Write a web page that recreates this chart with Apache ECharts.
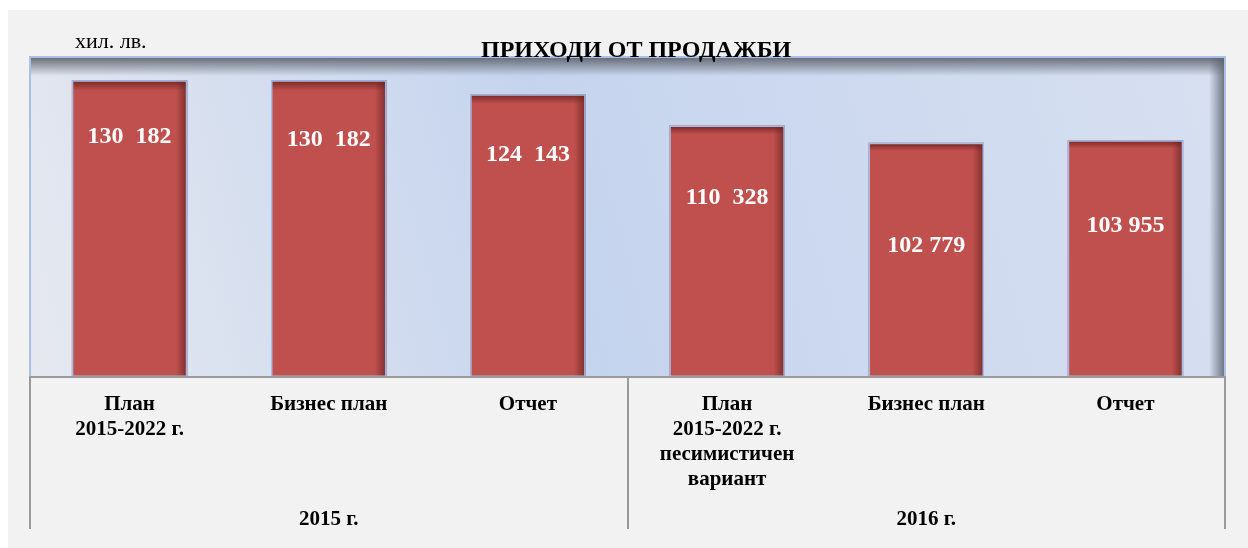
<!DOCTYPE html>
<html>
<head>
<meta charset="utf-8">
<script src="https://cdn.jsdelivr.net/npm/echarts@6/dist/echarts.min.js"></script>
<style>
html,body{margin:0;padding:0;background:#ffffff;}
#chart{width:1248px;height:548px;}
</style>
</head>
<body>
<div id="chart"></div>
<script>
// ---- data ----
const categories = [
  'План\n2015-2022 г.',
  'Бизнес план',
  'Отчет',
  'План\n2015-2022 г.\nпесимистичен\nвариант',
  'Бизнес план',
  'Отчет'
];
const groups = ['2015 г.', '2016 г.'];
const revenue = [130182, 130182, 124143, 110328, 102779, 103955];
const valueLabels = ['130  182', '130  182', '124  143', '110  328', '102 779', '103 955'];
const titleText = 'ПРИХОДИ ОТ ПРОДАЖБИ';
const unitText = 'хил. лв.';

// ---- styles (not data) ----
const labelDistances = [44, 47, 49, 60, 91, 74];
const FONT = "'Liberation Serif','Times New Roman',serif";

const chart = echarts.init(document.getElementById('chart'), null, {renderer: 'canvas'});

const G = {left: 30, right: 23, top: 58, bottom: 171};
const W = 1248, H = 548;
const gx = G.left, gy = G.top, gw = W - G.left - G.right, gh = H - G.top - G.bottom;

const option = {
  backgroundColor: 'transparent',
  animation: false,
  graphic: [
    {type: 'rect', z: -10, silent: true, shape: {x: 8, y: 10, width: W - 8, height: H - 10}, style: {fill: '#f2f2f2'}},
    // plot inner shadow top
    {type: 'rect', z: 5, silent: true, shape: {x: gx, y: gy, width: gw, height: 18},
      style: {fill: new echarts.graphic.LinearGradient(0, 0, 0, 1, [
        {offset: 0, color: 'rgba(95,100,110,0.9)'}, {offset: 1, color: 'rgba(95,100,110,0)'}])}},
    // plot inner shadow right
    {type: 'rect', z: 5, silent: true, shape: {x: gx + gw - 16, y: gy, width: 16, height: gh},
      style: {fill: new echarts.graphic.LinearGradient(0, 0, 1, 0, [
        {offset: 0, color: 'rgba(95,100,110,0)'}, {offset: 1, color: 'rgba(95,100,110,0.9)'}])}},
    {type: 'polyline', z: 6, silent: true,
      shape: {points: [[gx, gy + gh], [gx, gy - 1], [gx + gw, gy - 1], [gx + gw, gy + gh]]},
      style: {fill: 'none', stroke: '#a9c1e8', lineWidth: 2}}
  ],
  title: [
    {text: titleText, left: 476, top: 34,
      textStyle: {fontFamily: FONT, fontWeight: 'bold', fontSize: 24, color: '#000'}},
    {text: unitText, left: 70, top: 26,
      textStyle: {fontFamily: FONT, fontWeight: 'normal', fontSize: 22, color: '#000'}}
  ],
  grid: {
    left: G.left, right: G.right, top: G.top, bottom: G.bottom,
    show: true, borderWidth: 0,
    backgroundColor: new echarts.graphic.LinearGradient(0, 1, 1, 0, [
      {offset: 0, color: '#e6e9f0'},
      {offset: 0.45, color: '#c5d4ee'},
      {offset: 1, color: '#d8e0f1'}
    ])
  },
  xAxis: [
    {
      type: 'category', data: categories, position: 'bottom', z: 8,
      axisLine: {show: true, lineStyle: {color: '#9a9a9a', width: 2}},
      axisTick: {show: false},
      splitLine: {show: false},
      axisLabel: {interval: 0, margin: 15, fontFamily: FONT, fontWeight: 'bold', fontSize: 21,
        lineHeight: 25, color: '#000', align: 'center'}
    },
    {
      type: 'category', data: groups, position: 'bottom', z: 8,
      axisLine: {show: false},
      axisTick: {show: true, length: 152, lineStyle: {color: '#9a9a9a', width: 2}},
      splitLine: {show: false},
      axisLabel: {interval: 0, margin: 130, fontFamily: FONT, fontWeight: 'bold', fontSize: 21,
        lineHeight: 25, color: '#000'}
    }
  ],
  yAxis: {type: 'value', min: 0, max: 140000, show: false, splitLine: {show: false}},
  series: [
    {
      type: 'bar', xAxisIndex: 0, barWidth: '58%', z: 2,
      data: revenue.map((v, i) => ({
        value: v,
        label: {distance: labelDistances[i], formatter: valueLabels[i]}
      })),
      itemStyle: {
        color: new echarts.graphic.LinearGradient(0, 0, 1, 0, [
          {offset: 0, color: '#c0504d'},
          {offset: 0.9, color: '#c0504d'},
          {offset: 1, color: '#7c2e2c'}
        ])
      },
      label: {show: true, position: 'insideTop', color: '#ffffff', fontFamily: FONT,
        fontWeight: 'bold', fontSize: 24}
    },
    {
      type: 'bar', xAxisIndex: 0, barWidth: '58%', barGap: '-100%', z: 3, silent: true,
      data: revenue,
      itemStyle: {
        color: new echarts.graphic.LinearGradient(0, 0, 0, 1, [
          {offset: 0, color: 'rgba(110,35,33,0.95)'},
          {offset: 0.035, color: 'rgba(110,35,33,0)'},
          {offset: 1, color: 'rgba(110,35,33,0)'}
        ]),
        borderColor: '#a4bde6', borderWidth: 1.5
      },
      label: {show: false}
    }
  ]
};
chart.setOption(option);
</script>
</body>
</html>
